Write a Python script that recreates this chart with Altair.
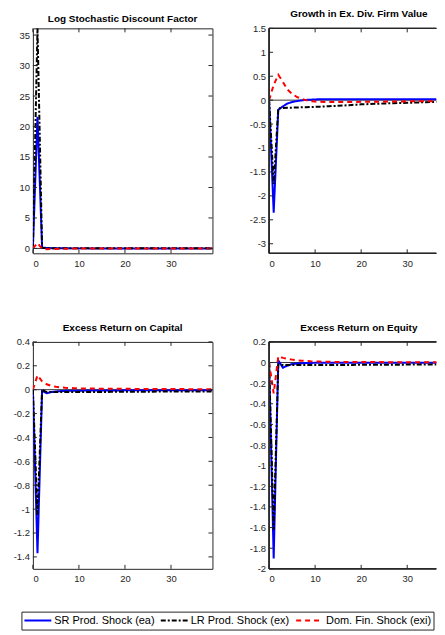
import altair as alt
import pandas as pd

T = list(range(40))
SERIES = ["SR Prod. Shock (ea)", "LR Prod. Shock (ex)", "Dom. Fin. Shock (exi)"]
COLORS = ["#0000ff", "#000000", "#ff0000"]
DASHES = [[1, 0], [5, 2, 2, 2], [5, 4]]
X_TICKS = [0, 10, 20, 30]

# Panel 1: Log Stochastic Discount Factor
sdf_sr = [0.0, 21.6, 0.15, 0.08, 0.05, 0.03, 0.02, 0.02, 0.01, 0.01,
          0.01, 0.01, 0.01, 0.0, 0.0, 0.0, 0.0, 0.0, 0.0, 0.0,
          0.0, 0.0, 0.0, 0.0, 0.0, 0.0, 0.0, 0.0, 0.0, 0.0,
          0.0, 0.0, 0.0, 0.0, 0.0, 0.0, 0.0, 0.0, 0.0, 0.0]
sdf_lr = [0.0, 36.1, 0.12, 0.06, 0.04, 0.03, 0.02, 0.02, 0.02, 0.02,
          0.02, 0.02, 0.02, 0.02, 0.02, 0.02, 0.02, 0.02, 0.02, 0.02,
          0.02, 0.02, 0.02, 0.02, 0.02, 0.02, 0.02, 0.02, 0.02, 0.02,
          0.02, 0.02, 0.02, 0.02, 0.02, 0.02, 0.02, 0.02, 0.02, 0.02]
sdf_fin = [0.0, 0.9, -0.05, -0.12, -0.1, -0.08, -0.06, -0.05, -0.04, -0.03,
           -0.02, -0.02, -0.01, -0.01, -0.01, -0.01, 0.0, 0.0, 0.0, 0.0,
           0.0, 0.0, 0.0, 0.0, 0.0, 0.0, 0.0, 0.0, 0.0, 0.0,
           0.0, 0.0, 0.0, 0.0, 0.0, 0.0, 0.0, 0.0, 0.0, 0.0]
sdf_ticks = [0, 5, 10, 15, 20, 25, 30, 35]

# Panel 2: Growth in Ex. Div. Firm Value
fv_sr = [0.0, -2.35, -0.2, -0.13, -0.07, -0.04, -0.02, -0.005, 0.005, 0.01,
         0.015, 0.018, 0.02, 0.02, 0.02, 0.02, 0.02, 0.02, 0.02, 0.02,
         0.02, 0.02, 0.02, 0.02, 0.02, 0.02, 0.02, 0.02, 0.02, 0.02,
         0.02, 0.02, 0.02, 0.02, 0.02, 0.02, 0.02, 0.02, 0.02, 0.02]
fv_lr = [0.0, -1.75, -0.17, -0.165, -0.16, -0.157, -0.153, -0.15, -0.146, -0.143,
         -0.14, -0.136, -0.132, -0.127, -0.122, -0.117, -0.112, -0.106, -0.1, -0.094,
         -0.088, -0.084, -0.08, -0.077, -0.074, -0.07, -0.067, -0.064, -0.061, -0.058,
         -0.055, -0.052, -0.049, -0.046, -0.043, -0.04, -0.037, -0.034, -0.032, -0.03]
fv_fin = [0.0, 0.32, 0.53, 0.38, 0.22, 0.13, 0.07, 0.03, 0.0, -0.02,
          -0.03, -0.035, -0.04, -0.04, -0.04, -0.04, -0.04, -0.04, -0.038, -0.037,
          -0.036, -0.035, -0.034, -0.033, -0.032, -0.031, -0.03, -0.029, -0.028, -0.027,
          -0.026, -0.025, -0.024, -0.023, -0.022, -0.021, -0.02, -0.02, -0.019, -0.018]
fv_ticks = [-3, -2.5, -2, -1.5, -1, -0.5, 0, 0.5, 1, 1.5]

# Panel 3: Excess Return on Capital
rk_sr = [0.0, -1.37, -0.01, -0.03, -0.02, -0.015, -0.012, -0.01, -0.01, -0.009,
         -0.008, -0.008, -0.007, -0.007, -0.007, -0.006, -0.006, -0.006, -0.006, -0.006,
         -0.005, -0.005, -0.005, -0.005, -0.005, -0.005, -0.005, -0.005, -0.005, -0.005,
         -0.005, -0.005, -0.005, -0.005, -0.005, -0.005, -0.005, -0.005, -0.005, -0.005]
rk_lr = [0.0, -1.05, 0.0, -0.02, -0.02, -0.02, -0.02, -0.02, -0.02, -0.02,
         -0.02, -0.02, -0.019, -0.019, -0.019, -0.019, -0.019, -0.018, -0.018, -0.018,
         -0.018, -0.018, -0.017, -0.017, -0.017, -0.017, -0.017, -0.016, -0.016, -0.016,
         -0.016, -0.016, -0.016, -0.015, -0.015, -0.015, -0.015, -0.015, -0.015, -0.015]
rk_fin = [0.0, 0.12, 0.07, 0.045, 0.032, 0.024, 0.019, 0.016, 0.014, 0.012,
          0.011, 0.01, 0.01, 0.009, 0.009, 0.008, 0.008, 0.008, 0.007, 0.007,
          0.007, 0.007, 0.006, 0.006, 0.006, 0.006, 0.006, 0.006, 0.005, 0.005,
          0.005, 0.005, 0.005, 0.005, 0.004, 0.004, 0.004, 0.004, 0.004, 0.004]
rk_ticks = [-1.4, -1.2, -1, -0.8, -0.6, -0.4, -0.2, 0, 0.2, 0.4]

# Panel 4: Excess Return on Equity
re_sr = [0.0, -1.9, 0.02, -0.05, -0.03, -0.015, -0.01, -0.007, -0.005, -0.004,
         -0.003, -0.003, -0.003, -0.003, -0.003, -0.003, -0.003, -0.003, -0.003, -0.003,
         -0.003, -0.003, -0.003, -0.003, -0.003, -0.003, -0.003, -0.003, -0.003, -0.003,
         -0.003, -0.003, -0.003, -0.003, -0.003, -0.003, -0.003, -0.003, -0.003, -0.003]
re_lr = [0.0, -1.62, -0.02, -0.025, -0.025, -0.025, -0.025, -0.025, -0.025, -0.025,
         -0.025, -0.024, -0.024, -0.024, -0.024, -0.023, -0.023, -0.023, -0.023, -0.022,
         -0.022, -0.022, -0.022, -0.022, -0.021, -0.021, -0.021, -0.021, -0.021, -0.021,
         -0.02, -0.02, -0.02, -0.02, -0.02, -0.02, -0.02, -0.02, -0.02, -0.02]
re_fin = [0.0, -0.3, 0.06, 0.045, 0.035, 0.028, 0.022, 0.018, 0.015, 0.012,
          0.01, 0.009, 0.008, 0.007, 0.006, 0.006, 0.005, 0.005, 0.005, 0.004,
          0.004, 0.004, 0.004, 0.004, 0.004, 0.003, 0.003, 0.003, 0.003, 0.003,
          0.003, 0.003, 0.003, 0.003, 0.003, 0.003, 0.003, 0.003, 0.003, 0.003]
re_ticks = [-2, -1.8, -1.6, -1.4, -1.2, -1, -0.8, -0.6, -0.4, -0.2, 0, 0.2]

ZERO = [0.0]

LEFT_W = 180.4
RIGHT_W = 168
TOP_H = 226
BOTTOM_H = 228
X_MAX = 39
TICK_LEN = 4
AX = "#262626"
LABEL_EXPR = "'' + datum.value"


def long_df(a, b, c):
    rows = []
    for name, vals in zip(SERIES, [a, b, c]):
        for t, v in zip(T, vals):
            rows.append({"t": t, "v": v, "series": name})
    return pd.DataFrame(rows)


def panel(a, b, c, title, domain, yticks, height, right=False):
    df = long_df(a, b, c)
    width = RIGHT_W if right else LEFT_W
    xmax = X_MAX * width / LEFT_W
    xs = alt.Scale(domain=[0, xmax], nice=False, zero=False)
    ys = alt.Scale(domain=domain, nice=False, zero=False)
    xaxis = alt.Axis(orient="bottom", values=X_TICKS, ticks=False, domain=False,
                     labelPadding=5, labelExpr=LABEL_EXPR, title=None)
    yaxis = alt.Axis(orient="left", values=yticks, ticks=False, domain=False,
                     labelPadding=3.5, labelExpr=LABEL_EXPR, title=None)
    X = lambda f: alt.X(f, scale=xs, axis=xaxis)
    Y = lambda f: alt.Y(f, scale=ys, axis=yaxis)
    legend = alt.Legend(
        orient="none", legendX=-11.5, legendY=586, direction="horizontal",
        columns=3, title=None, symbolType="stroke", symbolSize=729,
        symbolStrokeWidth=2, labelFontSize=11, labelFont="Liberation Sans",
        labelColor="#000000", strokeColor=AX, fillColor="white",
        padding=2, columnPadding=5, labelOffset=2, rowPadding=0, clipHeight=14,
    )
    zero = alt.Chart(pd.DataFrame({"v": ZERO})).mark_rule(
        color="#000000", strokeWidth=0.8
    ).encode(y=Y("v:Q"))
    lines = alt.Chart(df).mark_line(strokeWidth=2, clip=True).encode(
        x=X("t:Q"),
        y=Y("v:Q"),
        color=alt.Color("series:N", scale=alt.Scale(domain=SERIES, range=COLORS), legend=legend),
        strokeDash=alt.StrokeDash("series:N", scale=alt.Scale(domain=SERIES, range=DASHES), legend=legend),
    )
    xt = pd.DataFrame({"t": X_TICKS})
    yt = pd.DataFrame({"v": yticks})
    tick = dict(color=AX, strokeWidth=1)
    xtick_top = alt.Chart(xt).mark_rule(**tick).encode(
        x=X("t:Q"), y=alt.value(0), y2=alt.value(TICK_LEN))
    xtick_bot = alt.Chart(xt).mark_rule(**tick).encode(
        x=X("t:Q"), y=alt.value(height - TICK_LEN), y2=alt.value(height))
    ytick_left = alt.Chart(yt).mark_rule(**tick).encode(
        y=Y("v:Q"), x=alt.value(0), x2=alt.value(TICK_LEN))
    layers = [zero, lines, xtick_top, xtick_bot, ytick_left]
    if not right:
        ytick_right = alt.Chart(yt).mark_rule(**tick).encode(
            y=Y("v:Q"), x=alt.value(width - TICK_LEN), x2=alt.value(width))
        layers.append(ytick_right)
    else:
        border = dict(color=AX, strokeWidth=1)
        layers.append(alt.Chart(xt).mark_rule(**border).encode(
            x=alt.value(0), y=alt.value(0), y2=alt.value(height)))
        layers.append(alt.Chart(xt).mark_rule(**border).encode(
            x=alt.value(0), x2=alt.value(width), y=alt.value(0)))
        layers.append(alt.Chart(xt).mark_rule(**border).encode(
            x=alt.value(0), x2=alt.value(width), y=alt.value(height)))
    props = dict(width=width, height=height,
                 title=alt.TitleParams(title, dx=(LEFT_W - width) / 2, frame="group"))
    if right:
        props["view"] = alt.ViewBackground(stroke=None)
    return alt.layer(*layers).properties(**props)


p1 = panel(sdf_sr, sdf_lr, sdf_fin, "Log Stochastic Discount Factor", [-0.8, 36.1], sdf_ticks, TOP_H)
p2 = panel(fv_sr, fv_lr, fv_fin, "Growth in Ex. Div. Firm Value", [-3.2, 1.5], fv_ticks, TOP_H, right=True)
p3 = panel(rk_sr, rk_lr, rk_fin, "Excess Return on Capital", [-1.5, 0.4], rk_ticks, BOTTOM_H)
p4 = panel(re_sr, re_lr, re_fin, "Excess Return on Equity", [-2.0, 0.2], re_ticks, BOTTOM_H, right=True)

chart = alt.concat(
    p1, p2, p3, p4, columns=2, spacing={"row": 89, "column": 56.3}, bounds="flush"
).resolve_scale(color="shared", strokeDash="shared").configure(
    padding={"left": 4, "top": 0, "right": 0, "bottom": 0},
    font="Liberation Sans",
).configure_view(
    stroke=AX, strokeWidth=1
).configure_axis(
    labelFont="Liberation Sans", labelFontSize=9.5, labelColor=AX, grid=False
).configure_title(
    font="Liberation Sans", fontSize=10, fontWeight="bold", color="#000000",
    offset=0, anchor="middle"
)

chart.save("out.html", embed_options={"renderer": "svg", "actions": False})
